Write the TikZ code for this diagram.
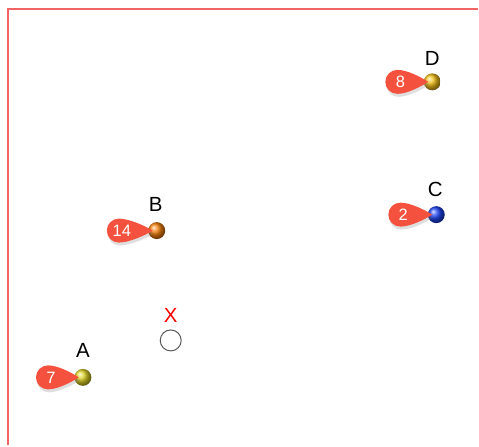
\documentclass[tikz,border=0pt]{standalone}
\usepackage{fontspec}
\setmainfont{Liberation Sans}
\usetikzlibrary{shadows}

\definecolor{pinred}{HTML}{F4523E}
\definecolor{framered}{HTML}{F26464}
\definecolor{gold}{HTML}{F5C21A}
\definecolor{amber}{HTML}{F7820C}
\definecolor{olive}{HTML}{E0D526}
\definecolor{royal}{HTML}{1F45F5}

% balloon marker left of a ball: #1 ball node, #2 distance to circle centre, #3 number
\newcommand{\balloon}[3]{%
  \fill[pinred, drop shadow={opacity=0.25, shadow xshift=1pt, shadow yshift=-3pt}]
    ([xshift=-4pt]#1.center) .. controls +(-8,5) and +(10,0) .. ++(-#2+4,12)
    arc[start angle=90, end angle=270, radius=12]
    .. controls +(10,0) and +(-8,-5) .. cycle;
  \node[text=white, font=\fontsize{16.5}{17}\selectfont] at ([xshift=-#2+3]#1.center) {#3};
}

\begin{document}
\begin{tikzpicture}[x=1pt, y=1pt]
            {
                \tikzset{ball/.style = {shape=circle, minimum size=17pt, inner sep=0pt},
                         lbl/.style = {font=\fontsize{20.5}{21}\selectfont}}
                \useasboundingbox (0,0) rectangle (479,446);

                \node[ball, ball color=gold] (d) at (433, 364) {};
                \node[ball, ball color=royal] (c) at (437, 231) {};
                \node[ball, ball color=amber] (b) at (157, 215) {};
                \node[ball, ball color=olive] (a) at (83, 68) {};
                \node[shape=circle, draw=black!65, line width=1pt, minimum size=21pt, inner sep=0pt] (x) at (171, 105) {};

                \node[lbl] (dl) at (433, 387) {D};
                \node[lbl] (cl) at (436, 256) {C};
                \node[lbl] (bl) at (156, 241) {B};
                \node[lbl] (al) at (83, 95) {A};
                \node[lbl, text=red] (xl) at (171, 130) {X};
            }

            \draw[framered, line width=1.6pt] (8, 0) -- (8, 437) -- (479, 437);

            \balloon{d}{35}{8}
            \balloon{c}{36}{2}
            \balloon{b}{38}{14}
            \balloon{a}{35}{7}

        \end{tikzpicture}
\end{document}
